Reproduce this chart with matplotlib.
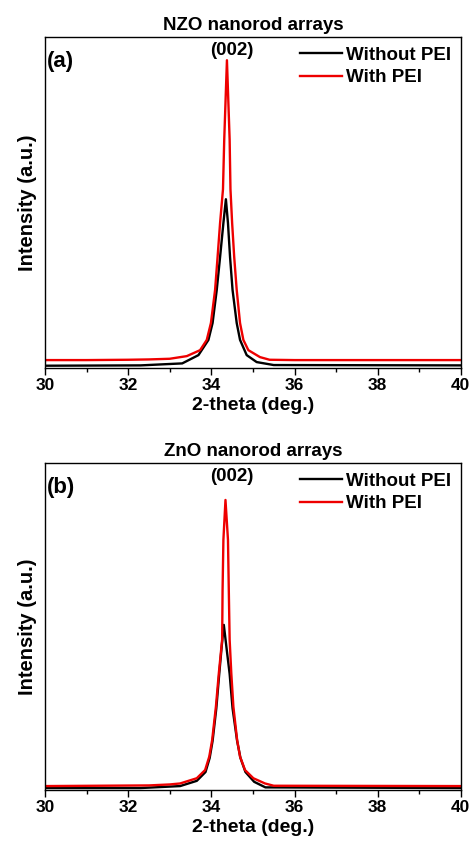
import matplotlib.pyplot as plt
from matplotlib.ticker import MultipleLocator

plt.rcParams['font.family'] = ['Liberation Sans', 'DejaVu Sans']
plt.rcParams['font.weight'] = 'bold'

# Panel (a): NZO nanorod arrays (normalised a.u.)
nzo_x_without = [30.0, 32.3, 32.8, 33.3, 33.69, 33.93, 34.03, 34.13, 34.21, 34.29, 34.35,
                 34.40, 34.45, 34.51, 34.61, 34.69, 34.85, 35.09, 35.5, 40.0]
nzo_y_without = [0.007, 0.008, 0.011, 0.014, 0.039, 0.085, 0.136, 0.236, 0.335, 0.438, 0.51,
                 0.438, 0.335, 0.236, 0.136, 0.085, 0.039, 0.018, 0.009, 0.008]
nzo_x_with = [30.0, 31.0, 32.0, 32.5, 33.0, 33.41, 33.73, 33.89, 33.99, 34.09, 34.15, 34.21,
              34.28, 34.31, 34.375, 34.44, 34.46, 34.50, 34.55, 34.61, 34.69, 34.77, 34.89,
              35.17, 35.4, 36.0, 40.0]
nzo_y_with = [0.024, 0.024, 0.025, 0.026, 0.028, 0.036, 0.054, 0.085, 0.136, 0.236, 0.335, 0.438,
              0.54, 0.69, 0.93, 0.69, 0.54, 0.438, 0.335, 0.236, 0.136, 0.085, 0.054,
              0.033, 0.025, 0.024, 0.024]

# Panel (b): ZnO nanorod arrays
zno_x_without = [30.0, 32.3, 33.25, 33.65, 33.86, 33.96, 34.03, 34.12, 34.19, 34.25, 34.30,
                 34.36, 34.44, 34.51, 34.62, 34.70, 34.82, 35.03, 35.3, 40.0]
zno_y_without = [0.006, 0.006, 0.012, 0.028, 0.055, 0.098, 0.15, 0.25, 0.355, 0.44, 0.505,
                 0.44, 0.355, 0.25, 0.15, 0.098, 0.055, 0.025, 0.008, 0.006]
zno_x_with = [30.0, 32.5, 33.0, 33.25, 33.65, 33.85, 33.95, 34.02, 34.11, 34.18, 34.26, 34.27,
              34.29, 34.34, 34.40, 34.42, 34.44, 34.48, 34.53, 34.62, 34.69, 34.81, 35.01,
              35.29, 35.5, 40.0]
zno_y_with = [0.012, 0.014, 0.017, 0.020, 0.036, 0.061, 0.102, 0.153, 0.255, 0.357, 0.46, 0.61,
              0.765, 0.887, 0.765, 0.61, 0.46, 0.357, 0.255, 0.153, 0.102, 0.061, 0.036,
              0.020, 0.013, 0.012]

panels = [
    ('NZO nanorod arrays', '(a)', nzo_x_without, nzo_y_without, nzo_x_with, nzo_y_with),
    ('ZnO nanorod arrays', '(b)', zno_x_without, zno_y_without, zno_x_with, zno_y_with),
]
boxes = [[0.0955, 0.566, 0.883, 0.3903], [0.0955, 0.0684, 0.883, 0.3856]]

fig = plt.figure(figsize=(4.71, 8.48), dpi=100)

for box, (title, tag, xw, yw, xp, yp) in zip(boxes, panels):
    ax = fig.add_axes(box)
    ax.plot(xw, yw, color='black', lw=1.7, label='Without PEI')
    ax.plot(xp, yp, color='#ee0000', lw=1.7, label='With PEI')
    ax.set_xlim(30, 40)
    ax.set_ylim(0, 1)
    ax.set_yticks([])
    ax.xaxis.set_major_locator(MultipleLocator(2))
    ax.xaxis.set_minor_locator(MultipleLocator(1))
    ax.tick_params(axis='x', which='major', direction='out', length=5, width=1,
                   labelsize=12.5, pad=2)
    ax.tick_params(axis='x', which='minor', direction='out', length=3, width=1)
    for lab in ax.get_xticklabels():
        lab.set_fontweight('bold')
    ax.set_xlabel('2-theta (deg.)', fontsize=14, fontweight='bold', labelpad=3)
    ax.set_ylabel('Intensity (a.u.)', fontsize=14.5, fontweight='bold', labelpad=6)
    ax.set_title(title, fontsize=13.5, fontweight='bold', pad=5)
    ax.text(0.005, 0.925, tag, transform=ax.transAxes, fontsize=16, fontweight='bold',
            va='center', ha='left')
    ax.text(0.45, 0.96, '(002)', transform=ax.transAxes, fontsize=13.5, fontweight='bold',
            va='center', ha='center')
    ax.legend(loc='upper right', frameon=False, handlelength=2.2,
              handletextpad=0.25, borderaxespad=0.1, labelspacing=0.3,
              prop={'weight': 'bold', 'size': 13.5})
    for s in ax.spines.values():
        s.set_linewidth(1.0)

fig.savefig('out.png', dpi=100)
